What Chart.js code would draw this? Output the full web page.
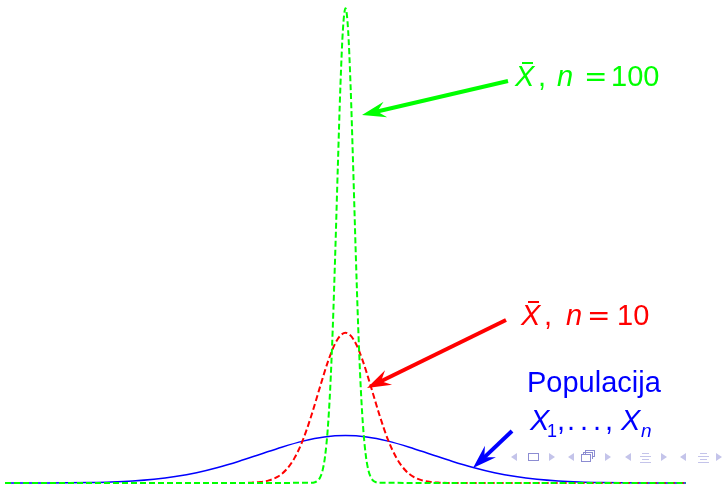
<!DOCTYPE html>
<html>
<head>
<meta charset="utf-8">
<script src="https://cdn.jsdelivr.net/npm/chart.js@4"></script>
<style>
  body { margin: 0; background: #fff; }
</style>
</head>
<body>
<canvas id="chart" width="724" height="484"></canvas>
<script>
// population density
const popX = [-4, -3.75, -3.5, -3.25, -3, -2.75, -2.5, -2.25, -2, -1.75, -1.5, -1.25, -1, -0.75, -0.5, -0.25,
  0, 0.25, 0.5, 0.75, 1, 1.25, 1.5, 1.75, 2, 2.25, 2.5, 2.75, 3, 3.25, 3.5, 3.75, 4];
const popY = [0.0001, 0.0004, 0.0009, 0.002, 0.0044, 0.0091, 0.0175, 0.0317, 0.054, 0.086, 0.13, 0.183, 0.242, 0.301, 0.352, 0.387,
  0.399, 0.387, 0.352, 0.301, 0.242, 0.183, 0.13, 0.086, 0.054, 0.0317, 0.0175, 0.0091, 0.0044, 0.002, 0.0009, 0.0004, 0.0001];

// sample mean, n = 10 (red)
const n10X = [-4, -1.2, -1.1, -1, -0.9, -0.8, -0.7, -0.6, -0.5, -0.4, -0.3, -0.2, -0.1,
  0, 0.1, 0.2, 0.3, 0.4, 0.5, 0.6, 0.7, 0.8, 0.9, 1, 1.1, 1.2, 4];
const n10Y = [0, 0.0009, 0.003, 0.0085, 0.022, 0.051, 0.109, 0.209, 0.362, 0.569, 0.806, 1.033, 1.2,
  1.262, 1.2, 1.033, 0.806, 0.569, 0.362, 0.209, 0.109, 0.051, 0.022, 0.0085, 0.003, 0.0009, 0];

// sample mean, n = 100 (green)
const n100X = [-4, -0.4, -0.36, -0.33, -0.3, -0.27, -0.24, -0.21, -0.18, -0.15, -0.12, -0.09, -0.06, -0.03,
  0, 0.03, 0.06, 0.09, 0.12, 0.15, 0.18, 0.21, 0.24, 0.27, 0.3, 0.33, 0.36, 0.4, 4];
const n100Y = [0, 0.0013, 0.0061, 0.0172, 0.044, 0.104, 0.224, 0.44, 0.789, 1.295, 1.942, 2.66, 3.332, 3.813,
  3.989, 3.813, 3.332, 2.66, 1.942, 1.295, 0.789, 0.44, 0.224, 0.104, 0.044, 0.0172, 0.0061, 0.0013, 0];

function toPoints(xs, ys) {
  return xs.map((x, i) => ({ x: x, y: ys[i] }));
}

const SANS = 'Helvetica, Arial, "Liberation Sans", sans-serif';

function drawArrow(ctx, x1, y1, x2, y2, color, w) {
  const ang = Math.atan2(y2 - y1, x2 - x1);
  const len = 24, half = 8;
  const cos = Math.cos(ang), sin = Math.sin(ang);
  ctx.save();
  ctx.strokeStyle = color;
  ctx.fillStyle = color;
  ctx.lineWidth = w;
  ctx.beginPath();
  ctx.moveTo(x1, y1);
  ctx.lineTo(x2 - cos * len * 0.6, y2 - sin * len * 0.6);
  ctx.stroke();
  ctx.beginPath();
  ctx.moveTo(x2, y2);
  ctx.lineTo(x2 - cos * len - sin * half, y2 - sin * len + cos * half);
  ctx.lineTo(x2 - cos * len * 0.65, y2 - sin * len * 0.65);
  ctx.lineTo(x2 - cos * len + sin * half, y2 - sin * len - cos * half);
  ctx.closePath();
  ctx.fill();
  ctx.restore();
}

function text(ctx, t, x, y, font) {
  ctx.font = font;
  ctx.fillText(t, x, y);
}

function drawNav(ctx) {
  const light = "rgb(196,196,234)";
  const dark = "rgb(140,140,210)";
  const cy = 457;
  ctx.save();
  ctx.fillStyle = light;
  [514, 571, 628, 683].forEach(x => {
    ctx.beginPath();
    ctx.moveTo(x - 3, cy); ctx.lineTo(x + 3, cy - 4); ctx.lineTo(x + 3, cy + 4);
    ctx.fill();
  });
  [552, 608, 664, 719].forEach(x => {
    ctx.beginPath();
    ctx.moveTo(x + 3, cy); ctx.lineTo(x - 3, cy - 4); ctx.lineTo(x - 3, cy + 4);
    ctx.fill();
  });
  ctx.strokeStyle = dark;
  ctx.lineWidth = 1;
  ctx.strokeRect(528.5, 453.5, 10, 7);
  ctx.strokeRect(585.5, 450.5, 9, 6);
  ctx.strokeRect(583.5, 452.5, 9, 6);
  ctx.fillStyle = "#fff";
  ctx.fillRect(582, 455, 10, 6);
  ctx.strokeRect(581.5, 454.5, 9, 7);
  ctx.strokeStyle = light;
  [640, 698].forEach(x => {
    ctx.beginPath();
    ctx.moveTo(x + 2, 453.5); ctx.lineTo(x + 9, 453.5);
    ctx.moveTo(x, 456.5); ctx.lineTo(x + 11, 456.5);
    ctx.moveTo(x + 2, 459.5); ctx.lineTo(x + 9, 459.5);
    ctx.moveTo(x, 462.5); ctx.lineTo(x + 11, 462.5);
    ctx.stroke();
  });
  ctx.restore();
}

const annotations = {
  id: "annotations",
  afterDraw(chart) {
    const ctx = chart.ctx;
    const big = "29px " + SANS;
    const it = "italic 29px " + SANS;
    const eq = '28px "DejaVu Sans", sans-serif';
    const sub = "18px " + SANS;
    const itSub = "italic 19px " + SANS;
    ctx.save();
    ctx.textBaseline = "alphabetic";
    ctx.textAlign = "left";

    // n = 100
    ctx.fillStyle = "#00ff00";
    text(ctx, "X", 515, 86, it);
    ctx.fillRect(522, 62, 11, 2);
    text(ctx, ",", 538, 86, big);
    text(ctx, "n", 557, 86, it);
    text(ctx, "=", 584, 86, eq);
    text(ctx, "100", 611, 86, big);
    drawArrow(ctx, 508, 81, 362, 115, "#00ff00", 4);

    // n = 10
    ctx.fillStyle = "#ff0000";
    text(ctx, "X", 521, 325, it);
    ctx.fillRect(528, 301, 11, 2);
    text(ctx, ",", 544, 325, big);
    text(ctx, "n", 566, 325, it);
    text(ctx, "=", 587, 325, eq);
    text(ctx, "10", 617, 325, big);
    drawArrow(ctx, 506, 320, 367, 388, "#ff0000", 4);

    // population
    ctx.fillStyle = "#0000ff";
    text(ctx, "Populacija", 527, 392, big);
    text(ctx, "X", 530, 430, it);
    text(ctx, "1", 547, 437, sub);
    text(ctx, ",", 557, 430, big);
    text(ctx, ".", 567, 430, big);
    text(ctx, ".", 580, 430, big);
    text(ctx, ".", 593, 430, big);
    text(ctx, ",", 605, 430, big);
    text(ctx, "X", 621, 430, it);
    text(ctx, "n", 641, 437, itSub);
    drawArrow(ctx, 512, 431, 473, 468, "#0000ff", 4);

    drawNav(ctx);
    ctx.restore();
  }
};

new Chart(document.getElementById("chart"), {
  type: "scatter",
  data: {
    datasets: [
      {
        label: "Populacija",
        data: toPoints(popX, popY),
        borderColor: "#0000ff",
        borderWidth: 1.5,
        order: 3
      },
      {
        label: "n = 10",
        data: toPoints(n10X, n10Y),
        borderColor: "#ff0000",
        borderWidth: 2,
        borderDash: [6, 3],
        order: 2
      },
      {
        label: "n = 100",
        data: toPoints(n100X, n100Y),
        borderColor: "#00ff00",
        borderWidth: 2,
        borderDash: [6, 3],
        order: 1
      }
    ]
  },
  options: {
    responsive: false,
    devicePixelRatio: 1,
    animation: false,
    showLine: true,
    clip: false,
    elements: {
      point: { radius: 0 },
      line: { cubicInterpolationMode: "monotone", fill: false }
    },
    layout: { padding: { left: 5, right: 38, top: 7, bottom: 1 } },
    plugins: {
      legend: { display: false },
      tooltip: { enabled: false }
    },
    scales: {
      x: { type: "linear", min: -4, max: 4, display: false },
      y: { min: 0, max: 4, display: false }
    }
  },
  plugins: [annotations]
});
</script>
</body>
</html>
